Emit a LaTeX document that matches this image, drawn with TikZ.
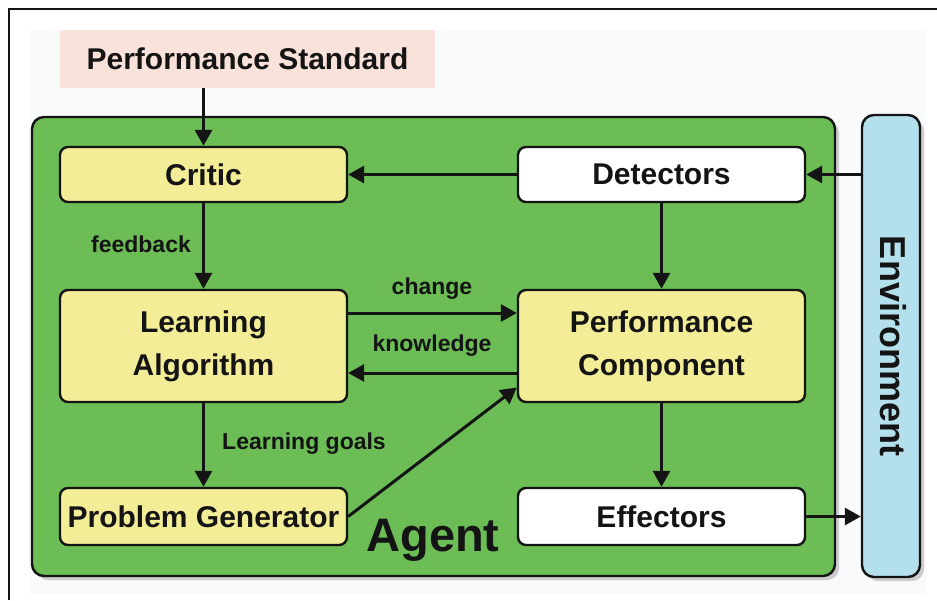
\documentclass[tikz,border=0pt]{standalone}
\usepackage{fontspec}
\setmainfont{Liberation Sans}
\usetikzlibrary{arrows.meta,shadows}

\definecolor{agentgreen}{HTML}{6CBD55}
\definecolor{boxyellow}{HTML}{F3ED97}
\definecolor{stdpink}{HTML}{F9E2D9}
\definecolor{envblue}{HTML}{B4DFEC}
\definecolor{paper}{HTML}{F9FAFC}
\definecolor{ink}{HTML}{141414}

\tikzset{
  unitbox/.style={draw=ink, line width=2.4pt, rounded corners=8pt,
    minimum width=287pt, align=center, inner sep=0pt,
    font=\bfseries\fontsize{30}{43}\selectfont, text=ink},
  yellowbox/.style={unitbox, fill=boxyellow},
  whitebox/.style={unitbox, fill=white},
  flow/.style={draw=ink, line width=3pt,
    -{Triangle[length=16pt,width=17pt]}},
  lbl/.style={font=\bfseries\fontsize{23}{27}\selectfont, text=ink, inner sep=0pt},
  softshadow/.style={drop shadow={shadow xshift=4pt, shadow yshift=-4pt,
    fill=black, opacity=0.18}}
}

\begin{document}
\begin{tikzpicture}[x=1pt,y=-1pt]
  \useasboundingbox (0,0) rectangle (937,600);

  % page frame and paper tint
  \fill[white] (0,0) rectangle (937,600);
  \fill[paper] (29,30) rectangle (926,594);
  \draw[ink, line width=2pt] (9,600) -- (9,9) -- (937,9);

  % performance standard banner
  \node[fill=stdpink, minimum width=375pt, minimum height=58pt, inner sep=0pt,
        font=\bfseries\fontsize{30}{36}\selectfont, text=ink]
        (std) at (247.5,59) {Performance Standard};

  % agent container
  \draw[ink, line width=2.4pt, fill=agentgreen, rounded corners=12pt, softshadow]
        (32,117) rectangle (835,576);

  % environment column
  \node[draw=ink, line width=2.4pt, fill=envblue, rounded corners=12pt, softshadow,
        minimum width=58pt, minimum height=462pt, inner sep=0pt] (env) at (891,346) {};
  \node[rotate=-90, font=\bfseries\fontsize{36}{40}\selectfont, text=ink]
        (envtext) at (893,346) {Environment};

  % agent components
  \node[yellowbox, minimum height=55pt]  (critic) at (203.5,174.5) {Critic};
  \node[whitebox,  minimum height=55pt]  (det)    at (661.5,174.5) {Detectors};
  \node[yellowbox, minimum height=112pt] (learn)  at (203.5,346)   {Learning\\Algorithm};
  \node[yellowbox, minimum height=112pt] (perf)   at (661.5,346)   {Performance\\Component};
  \node[yellowbox, minimum height=57pt]  (prob)   at (203.5,516.5) {Problem Generator};
  \node[whitebox,  minimum height=57pt]  (eff)    at (661.5,516.5) {Effectors};

  \node[font=\bfseries\fontsize{47}{52}\selectfont, text=ink, inner sep=0pt]
        (agent) at (433,540) {Agent};

  % connectors
  \draw[flow] (critic.north |- std.south) -- (critic.north);
  \draw[flow] (det.west) -- (critic.east);
  \draw[flow] (env.west |- det.east) -- (det.east);
  \draw[flow] (critic.south) -- (learn.north);
  \draw[flow] (det.south) -- (perf.north);
  \draw[flow] (learn.east |- 0,313) -- (perf.west |- 0,313);
  \draw[flow] (perf.west |- 0,373) -- (learn.east |- 0,373);
  \draw[flow] (learn.south) -- (prob.north);
  \draw[flow] (prob.east) -- (perf.196);
  \draw[flow] (perf.south) -- (eff.north);
  \draw[flow] (eff.east) -- (eff.east -| env.west);

  % connector labels
  \node[lbl] (fb)    at (141,244) {feedback};
  \node[lbl] (chg)   at (432,289) {change};
  \node[lbl] (know)  at (432,346) {knowledge};
  \node[lbl] (goals) at (304,444) {Learning goals};
\end{tikzpicture}
\end{document}
